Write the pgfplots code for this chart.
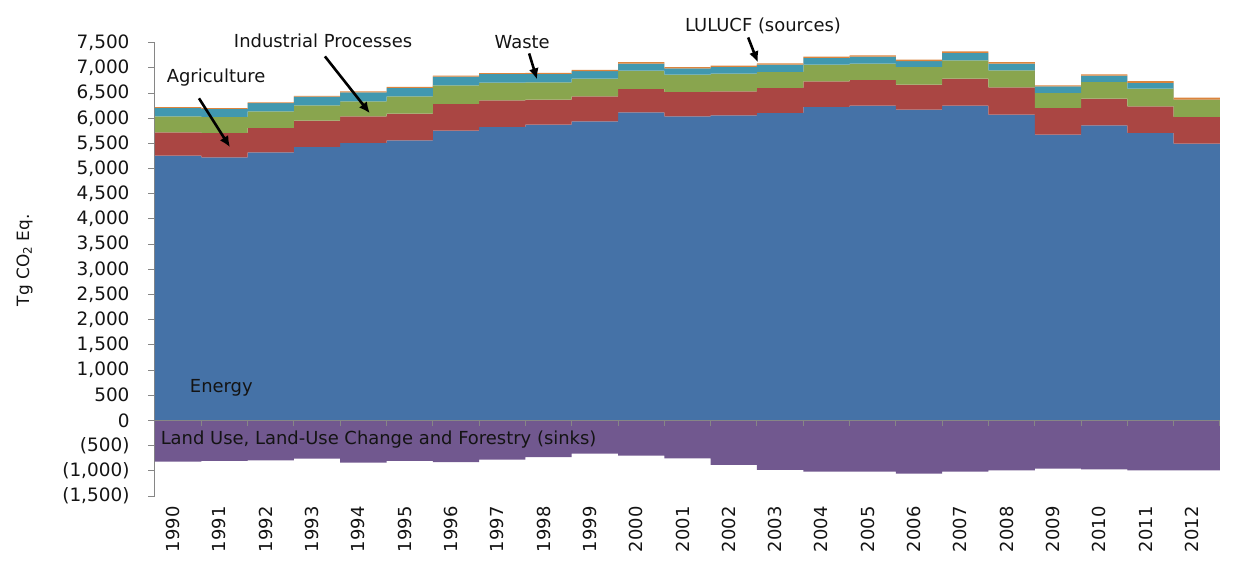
\documentclass[border=0pt]{standalone}
\usepackage{fontspec}
\setmainfont{DejaVu Sans}
\usepackage{pgfplots}
\pgfplotsset{compat=1.18}
\usepackage{pgfplotstable}
\usetikzlibrary{arrows.meta}

\definecolor{cEnergy}{HTML}{4572A7}
\definecolor{cAgri}{HTML}{AA4643}
\definecolor{cIP}{HTML}{89A54E}
\definecolor{cWaste}{HTML}{4198AF}
\definecolor{cLsrc}{HTML}{DB843D}
\definecolor{cSink}{HTML}{71588F}
\definecolor{axgray}{HTML}{868686}
\definecolor{txt}{HTML}{141414}

% x = left edge of each year's block; last row repeats 2012 to close the step
\pgfplotstableread{
x       energy agri ip  waste src sink
1989.5  5257   463  317 170   14  -818
1990.5  5223   485  318 160   14  -805
1991.5  5322   485  330 165   14  -792
1992.5  5430   522  304 175   14  -759
1993.5  5509   528  298 180   18  -838
1994.5  5561   530  344 170   16  -805
1995.5  5753   531  369 175   20  -825
1996.5  5827   528  352 173   17  -780
1997.5  5873   496  344 167   22  -726
1998.5  5938   497  351 148   25  -660
1999.5  6117   465  363 139   28  -700
2000.5  6037   485  344 122   25  -752
2001.5  6057   477  351 133   26  -884
2002.5  6105   496  318 145   26  -983
2003.5  6224   509  331 133   24  -1016
2004.5  6250   510  324 139   26  -1016
2005.5  6171   496  351 115   33  -1056
2006.5  6250   536  364 147   32  -1016
2007.5  6071   542  338 133   28  -990
2008.5  5674   530  298 131   20  -957
2009.5  5859   530  332 125   25  -970
2010.5  5708   528  352 113   35  -990
2011.5  5495   531  343 0     38  -990
2012.5  5495   531  343 0     38  -990
}\data

\begin{document}
\begin{tikzpicture}
\useasboundingbox (-155bp,-81bp) rectangle (1081bp,496bp);
\begin{axis}[
  at={(0bp,0bp)}, anchor=south west,
  scale only axis, width=1065bp, height=453.3bp,
  xmin=1989.5, xmax=2012.5, ymin=-1500, ymax=7500,
  clip=false,
  axis y line*=left, axis x line*=bottom,
  x axis line style={draw=none},
  y axis line style={axgray, line width=1bp},
  xtick={1990,1991,...,2012},
  xtick style={draw=none},
  ytick={-1500,-1000,...,7500},
  yticklabels={{(1,500)},{(1,000)},{(500)},0,500,{1,000},{1,500},{2,000},{2,500},{3,000},{3,500},{4,000},{4,500},{5,000},{5,500},{6,000},{6,500},{7,000},{7,500}},
  ytick style={axgray, line width=1bp},
  tick align=outside, major tick length=7bp,
  /pgf/number format/assume math mode=true,
  /pgf/number format/1000 sep={},
  tick label style={font=\fontsize{18.5}{20}\selectfont, text=txt},
  yticklabel style={xshift=-15bp},
  xticklabel style={xshift=-5bp, rotate=90, anchor=east, font=\fontsize{18}{20}\selectfont},
  every axis y label/.style={at={(axis description cs:-0.1225,0.52)}, rotate=90, anchor=center, font=\fontsize{17}{20}\selectfont, text=txt},
  ylabel={Tg CO\textsubscript{2} Eq.},
  area/.style={draw=none, const plot mark left, stack plots=y},
]
\addplot[fill=cSink, draw=none, const plot mark left, stack plots=false] table[x=x, y=sink] {\data} \closedcycle;
\addplot[area, fill=cEnergy] table[x=x, y=energy] {\data} \closedcycle;
\addplot[area, fill=cAgri] table[x=x, y=agri] {\data} \closedcycle;
\addplot[area, fill=cIP] table[x=x, y=ip] {\data} \closedcycle;
\addplot[area, fill=cWaste] table[x=x, y=waste] {\data} \closedcycle;
\addplot[area, fill=cLsrc] table[x=x, y=src] {\data} \closedcycle;

\draw[axgray, line width=1bp] (axis cs:1989.5,0) -- (axis cs:2012.5,0);
\pgfplotsinvokeforeach{1990.5,1991.5,...,2012.5}{
  \draw[axgray, line width=1bp] (axis cs:#1,0) -- ++(0bp,-6bp);
}

\begin{scope}[every node/.style={font=\fontsize{18}{21}\selectfont, text=txt, inner sep=0pt}]
\node[anchor=west] at (axis cs:1990.25,650) {Energy};
\node[anchor=west] at (axis cs:1989.62,-376) {Land Use, Land-Use Change and Forestry (sinks)};
\node at (axis cs:1990.82,6812) {Agriculture};
\node at (axis cs:1993.13,7545) {Industrial Processes};
\node at (axis cs:1997.43,7505) {Waste};
\node at (axis cs:2002.63,7828) {LULUCF (sources)};
\end{scope}
\begin{scope}[line width=2.6bp, -{Latex[length=11bp, width=10bp]}]
\draw (axis cs:1990.45,6396) -- (axis cs:1991.12,5426);
\draw (axis cs:1993.17,7228) -- (axis cs:1994.14,6099);
\draw (axis cs:1997.58,7287) -- (axis cs:1997.75,6772);
\draw (axis cs:2002.31,7604) -- (axis cs:2002.52,7109);
\end{scope}
\end{axis}
\end{tikzpicture}
\end{document}
